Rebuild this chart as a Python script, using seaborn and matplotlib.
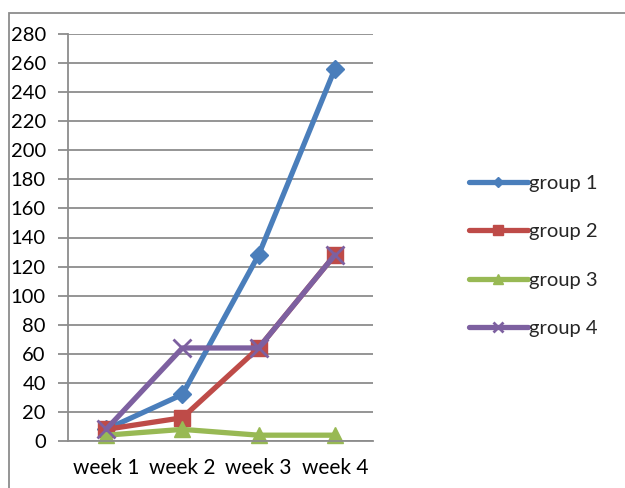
import pandas as pd
import matplotlib.pyplot as plt
import seaborn as sns
from matplotlib.patches import Rectangle
from matplotlib.ticker import FixedLocator, NullFormatter, FixedFormatter

weeks = ['week 1', 'week 2', 'week 3', 'week 4']
group_1 = [8, 32, 128, 256]
group_2 = [8, 16, 64, 128]
group_3 = [4, 8, 4, 4]
group_4 = [8, 64, 64, 128]

groups = ['group 1', 'group 2', 'group 3', 'group 4']
colors = ['#4A7EBB', '#BE4B48', '#98B954', '#7D60A0']
markers = ['D', 's', '^', 'x']
msizes = [9, 12, 12, 13]

sns.set_style('white')
plt.rcParams['font.family'] = ['Lato', 'DejaVu Sans']

df = pd.DataFrame({'week': weeks * 4,
                   'pos': list(range(4)) * 4,
                   'value': group_1 + group_2 + group_3 + group_4,
                   'group': [g for g in groups for _ in weeks]})

fig = plt.figure(figsize=(6.25, 4.88), dpi=100)
ax = fig.add_axes([68 / 625, 47 / 488, 305 / 625, 407 / 488])

for g, c, m, s in zip(groups, colors, markers, msizes):
    sub = df[df['group'] == g]
    sns.lineplot(data=sub, x='pos', y='value', ax=ax, color=c, marker=m,
                 markersize=s, linewidth=3.8, markeredgecolor=c,
                 markeredgewidth=2 if m == 'x' else 1, label=g, clip_on=False)

ax.set_xlim(-0.5, 3.5)
ax.set_ylim(0, 280)
ax.set_yticks(range(0, 281, 20))
ax.yaxis.grid(True, color='#8C8C8C', linewidth=1.3)
ax.set_axisbelow(True)
for side in ['top', 'right']:
    ax.spines[side].set_visible(False)
for side in ['left', 'bottom']:
    ax.spines[side].set_color('#8C8C8C')
    ax.spines[side].set_linewidth(1.3)

ax.xaxis.set_major_locator(FixedLocator([-0.5, 0.5, 1.5, 2.5, 3.5]))
ax.xaxis.set_major_formatter(NullFormatter())
ax.xaxis.set_minor_locator(FixedLocator(range(4)))
ax.xaxis.set_minor_formatter(FixedFormatter(weeks))
ax.tick_params(axis='x', which='major', length=7, width=1.3, color='#8C8C8C', direction='out')
ax.tick_params(axis='x', which='minor', length=0, labelsize=15, pad=12)
ax.tick_params(axis='y', length=7, width=1.3, color='#8C8C8C', direction='out', labelsize=14.5, pad=9, left=True)
for lbl in ax.get_xticklabels(minor=True) + ax.get_yticklabels():
    lbl.set_color('black')
ax.set_xlabel('')
ax.set_ylabel('')

ax.legend(loc='center left', bbox_to_anchor=(451 / 625, 232 / 488), bbox_transform=fig.transFigure,
          frameon=False, fontsize=14.5, handlelength=2.9, handletextpad=0.05, labelspacing=1.55,
          markerscale=0.6)

fig.patches.append(Rectangle((9 / 625, -0.1), 1.2, 475 / 488 + 0.1, transform=fig.transFigure,
                             fill=False, edgecolor='#8C8C8C', linewidth=1.3))

fig.savefig('out.png', dpi=100)
